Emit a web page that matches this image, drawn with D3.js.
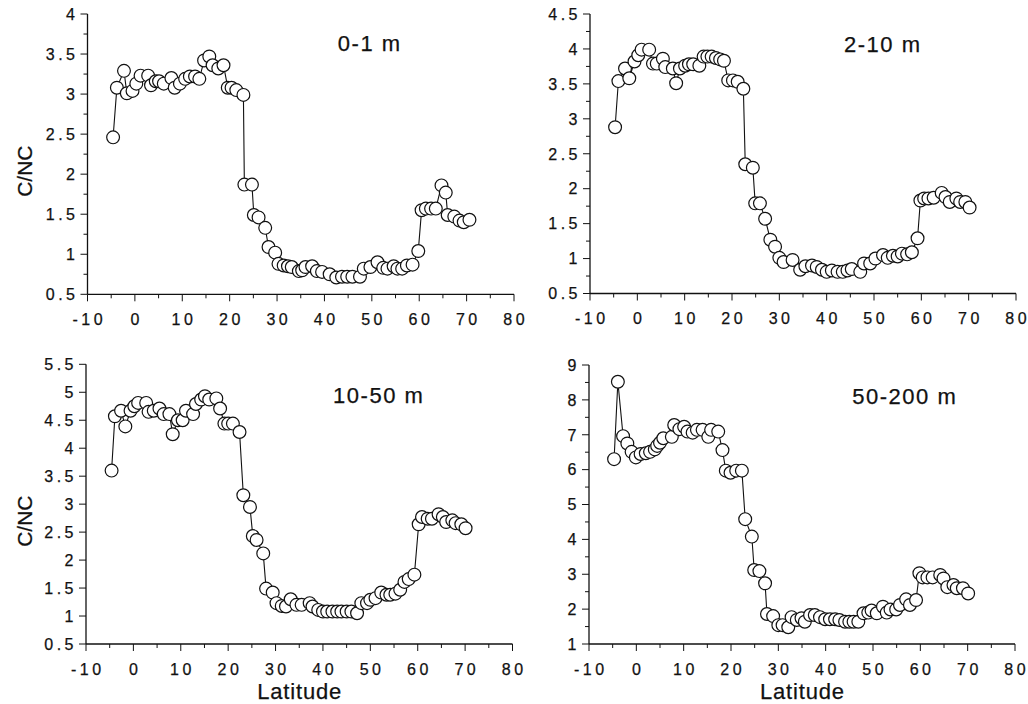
<!DOCTYPE html>
<html>
<head>
<meta charset="utf-8">
<script src="https://cdn.jsdelivr.net/npm/d3@7"></script>
<style>
  body { margin: 0; background: #fff; }
  text { font-family: "Liberation Sans", Arial, sans-serif; fill: #111; stroke: #111; stroke-width: 0.25px; }
</style>
</head>
<body>
<svg id="chart" width="1028" height="704"></svg>
<script>
// Data: latitude and C/NC for each depth layer

var lat01 = [-4.6,-3.8,-2.3,-1.7,-0.5,0.3,1.2,2.8,3.4,4.4,5.1,6.1,7.7,8.4,9.5,10.6,11.6,12.7,13.6,14.6,15.7,16.4,17.6,18.7,19.6,20.4,21.4,22.9,23.1,24.7,25.1,26.1,27.5,28.2,29.6,30.3,31.4,32.3,33.1,34.6,35.3,36.0,37.4,38.4,39.5,41.1,42.5,43.7,44.8,45.9,47.5,48.3,49.7,51.2,52.4,53.3,54.6,55.4,56.4,57.4,58.6,59.8,60.5,61.4,62.5,63.5,64.7,65.6,66.0,67.4,68.5,69.4,70.6];
var cn01 = [2.46,3.08,3.29,3.01,3.04,3.13,3.23,3.23,3.11,3.16,3.16,3.13,3.20,3.08,3.13,3.19,3.22,3.22,3.19,3.42,3.47,3.36,3.32,3.36,3.08,3.08,3.05,2.99,1.87,1.87,1.49,1.46,1.33,1.09,1.02,0.88,0.86,0.85,0.84,0.79,0.80,0.84,0.85,0.79,0.78,0.75,0.71,0.72,0.72,0.72,0.72,0.82,0.84,0.90,0.83,0.82,0.85,0.82,0.82,0.86,0.87,1.04,1.55,1.57,1.57,1.57,1.86,1.77,1.49,1.47,1.42,1.40,1.43];

var lat02 = [-4.7,-4.0,-2.6,-1.7,-0.6,0.2,0.9,2.5,3.3,4.1,5.4,5.9,7.5,8.2,9.0,10.1,10.9,11.8,13.1,14.0,14.8,15.7,16.6,17.5,18.3,19.2,20.2,21.2,22.4,22.8,24.4,24.9,25.9,27.0,28.1,29.1,30.0,30.9,32.8,34.4,35.5,36.9,37.9,39.0,40.0,41.1,42.3,43.4,44.4,45.3,47.1,47.9,49.2,50.3,51.9,52.9,54.0,55.0,55.9,57.0,58.0,59.2,59.8,60.6,61.5,62.6,64.3,65.1,66.0,67.4,68.2,69.3,70.2];
var cn02 = [2.88,3.54,3.72,3.58,3.82,3.91,3.99,3.99,3.79,3.79,3.86,3.74,3.72,3.51,3.72,3.76,3.78,3.78,3.76,3.89,3.89,3.89,3.87,3.85,3.83,3.55,3.55,3.53,3.43,2.35,2.30,1.79,1.79,1.57,1.27,1.17,1.01,0.95,0.98,0.84,0.89,0.90,0.88,0.84,0.81,0.83,0.81,0.81,0.83,0.85,0.81,0.93,0.93,1.00,1.05,1.01,1.04,1.03,1.07,1.06,1.09,1.29,1.83,1.86,1.86,1.87,1.94,1.88,1.81,1.86,1.81,1.81,1.73];

var lat03 = [-4.6,-3.9,-2.6,-1.7,-0.6,0.2,1.0,2.7,3.2,4.3,5.5,6.4,7.6,8.3,9.4,10.4,11.1,12.6,13.2,14.3,15.1,16.0,17.5,18.3,19.2,20.0,21.0,22.4,23.2,24.6,25.2,26.0,27.4,28.0,29.4,30.2,31.3,32.2,33.2,34.4,35.5,37.2,37.8,39.0,40.0,40.9,42.0,43.0,43.9,45.0,46.0,47.2,48.1,49.3,50.0,51.1,52.3,53.4,54.2,55.3,56.3,57.2,58.1,59.3,60.2,60.9,62.1,63.0,64.4,65.3,66.0,67.3,68.0,69.2,70.1];
var cn03 = [3.60,4.57,4.67,4.39,4.67,4.75,4.81,4.81,4.65,4.67,4.71,4.61,4.61,4.25,4.50,4.50,4.67,4.61,4.79,4.87,4.93,4.87,4.89,4.71,4.44,4.44,4.44,4.29,3.16,2.95,2.43,2.36,2.12,1.49,1.42,1.23,1.18,1.17,1.30,1.20,1.20,1.23,1.17,1.11,1.08,1.08,1.08,1.08,1.08,1.08,1.08,1.05,1.23,1.23,1.29,1.32,1.42,1.38,1.38,1.40,1.47,1.61,1.66,1.74,2.64,2.77,2.74,2.74,2.82,2.77,2.68,2.71,2.66,2.64,2.57];

var lat04 = [-4.7,-3.9,-2.8,-1.9,-1.0,-0.1,0.9,2.0,2.9,3.9,4.4,5.0,5.7,7.5,8.0,9.1,10.1,10.8,11.9,12.8,14.0,15.2,15.8,17.3,18.2,18.9,19.9,21.1,22.3,23.0,24.4,24.9,26.0,27.2,27.6,28.9,30.0,30.9,32.1,32.8,33.9,34.9,35.6,36.7,37.7,38.8,39.9,40.9,42.0,42.9,44.1,45.0,45.9,46.9,48.0,49.0,49.7,50.8,52.1,52.9,53.7,54.9,55.7,57.0,57.8,59.1,59.8,60.5,61.5,62.6,64.2,64.9,65.7,67.0,67.7,69.0,70.1];
var cn04 = [6.30,8.52,6.96,6.75,6.51,6.35,6.45,6.47,6.51,6.58,6.68,6.77,6.90,6.94,7.28,7.16,7.23,7.09,7.06,7.14,7.14,6.94,7.14,7.09,6.56,5.97,5.91,5.97,5.97,4.58,4.08,3.12,3.09,2.74,1.86,1.80,1.54,1.54,1.48,1.77,1.69,1.74,1.64,1.83,1.83,1.77,1.71,1.71,1.71,1.69,1.64,1.64,1.64,1.64,1.88,1.90,1.96,1.88,2.07,1.90,1.99,1.99,2.12,2.28,2.12,2.26,3.03,2.91,2.91,2.91,2.98,2.88,2.63,2.69,2.60,2.60,2.45];

var titles = ['0-1 m', '2-10 m', '10-50 m', '50-200 m'];
var xTicks = [-10, 0, 10, 20, 30, 40, 50, 60, 70, 80];

// panel frames (pixels) and y domains
var panels = [
	{lat: lat01, cn: cn01, title: titles[0], x0: 87.5, x1: 514, y0: 294.3, y1: 14, ymin: 0.5, ymax: 4, step: 0.5, minor: true, tx: 369, ty: 51, ylab: true, xlab: false},
	{lat: lat02, cn: cn02, title: titles[1], x0: 590, x1: 1016, y0: 293.5, y1: 14, ymin: 0.5, ymax: 4.5, step: 0.5, minor: true, tx: 882, ty: 52, ylab: false, xlab: false},
	{lat: lat03, cn: cn03, title: titles[2], x0: 86, x1: 512.5, y0: 644, y1: 364.3, ymin: 0.5, ymax: 5.5, step: 0.5, minor: false, tx: 378, ty: 403, ylab: true, xlab: true},
	{lat: lat04, cn: cn04, title: titles[3], x0: 589, x1: 1015, y0: 644, y1: 365, ymin: 1, ymax: 9, step: 1, minor: true, tx: 904, ty: 404, ylab: false, xlab: true}
];

var svg = d3.select('#chart');

function fmt(d){
	return String(+d.toFixed(2));
}

// spread letters with dx so there is no trailing gap after the last glyph
function spacing(str, s){
	var out = [];
	for (var k = 0; k < str.length; k++) out.push(k == 0 ? 0 : s);
	return out.join(' ');
}

function drawPanel(p){
	var x = d3.scaleLinear().domain([-10, 80]).range([p.x0, p.x1]);
	var y = d3.scaleLinear().domain([p.ymin, p.ymax]).range([p.y0, p.y1]);
	var g = svg.append('g');

	// axis lines
	g.append('line')
		.attr('x1', p.x0).attr('x2', p.x0)
		.attr('y1', p.y0).attr('y2', p.y1)
		.attr('stroke', '#111').attr('stroke-width', 1.3);
	g.append('line')
		.attr('x1', p.x0).attr('x2', p.x1)
		.attr('y1', p.y0).attr('y2', p.y0)
		.attr('stroke', '#111').attr('stroke-width', 1.3);

	// y ticks
	var yMajor = d3.range(p.ymin, p.ymax + 1e-9, p.step);
	var yMinor = p.minor ? d3.range(p.ymin + p.step / 2, p.ymax, p.step) : [];
	g.selectAll('.ymaj').data(yMajor).enter().append('line')
		.attr('x1', p.x0 - 7).attr('x2', p.x0)
		.attr('y1', function(d){ return y(d); })
		.attr('y2', function(d){ return y(d); })
		.attr('stroke', '#111');
	g.selectAll('.ymin').data(yMinor).enter().append('line')
		.attr('x1', p.x0 - 4).attr('x2', p.x0)
		.attr('y1', function(d){ return y(d); })
		.attr('y2', function(d){ return y(d); })
		.attr('stroke', '#111');
	g.selectAll('.ylab').data(yMajor).enter().append('text')
		.attr('x', p.x0 - 12.5)
		.attr('y', function(d){ return y(d); })
		.attr('dy', '0.36em')
		.attr('dx', function(d){ return spacing(fmt(d), 3.5); })
		.attr('text-anchor', 'end')
		.attr('font-size', 16)
		.text(fmt);

	// x ticks
	var xMinor = d3.range(-5, 80, 10);
	g.selectAll('.xmaj').data(xTicks).enter().append('line')
		.attr('x1', function(d){ return x(d); })
		.attr('x2', function(d){ return x(d); })
		.attr('y1', p.y0).attr('y2', p.y0 + 7)
		.attr('stroke', '#111');
	g.selectAll('.xmin').data(xMinor).enter().append('line')
		.attr('x1', function(d){ return x(d); })
		.attr('x2', function(d){ return x(d); })
		.attr('y1', p.y0).attr('y2', p.y0 + 4)
		.attr('stroke', '#111');
	g.selectAll('.xlab').data(xTicks).enter().append('text')
		.attr('x', function(d){ return x(d); })
		.attr('y', p.y0 + 30.5)
		.attr('dx', function(d){ return spacing(fmt(d), 3.5); })
		.attr('text-anchor', 'middle')
		.attr('font-size', 16)
		.text(fmt);

	// line + markers
	var pts = p.lat.map(function(v, i){ return [v, p.cn[i]]; });
	var line = d3.line()
		.x(function(d){ return x(d[0]); })
		.y(function(d){ return y(d[1]); });
	g.append('path')
		.datum(pts)
		.attr('d', line)
		.attr('fill', 'none')
		.attr('stroke', '#111')
		.attr('stroke-width', 1.1);
	g.selectAll('circle').data(pts).enter().append('circle')
		.attr('cx', function(d){ return x(d[0]); })
		.attr('cy', function(d){ return y(d[1]); })
		.attr('r', 6.4)
		.attr('fill', '#fff')
		.attr('stroke', '#111')
		.attr('stroke-width', 1.2);

	// panel title
	g.append('text')
		.attr('x', p.tx)
		.attr('y', p.ty)
		.attr('dx', spacing(p.title, 1.5))
		.attr('text-anchor', 'middle')
		.attr('font-size', 22)
		.text(p.title);

	if (p.ylab){
		g.append('text')
			.attr('transform', 'translate(32,' + ((p.y0 + p.y1) / 2 + 17) + ') rotate(-90)')
			.attr('text-anchor', 'middle')
			.attr('font-size', 21)
			.text('C/NC');
	}
	if (p.xlab){
		g.append('text')
			.attr('x', (p.x0 + p.x1) / 2)
			.attr('y', 699)
			.attr('dx', spacing('Latitude', 0.8))
			.attr('text-anchor', 'middle')
			.attr('font-size', 22)
			.text('Latitude');
	}
}

for (var i = 0; i < panels.length; i++){
	drawPanel(panels[i]);
}
</script>
</body>
</html>
